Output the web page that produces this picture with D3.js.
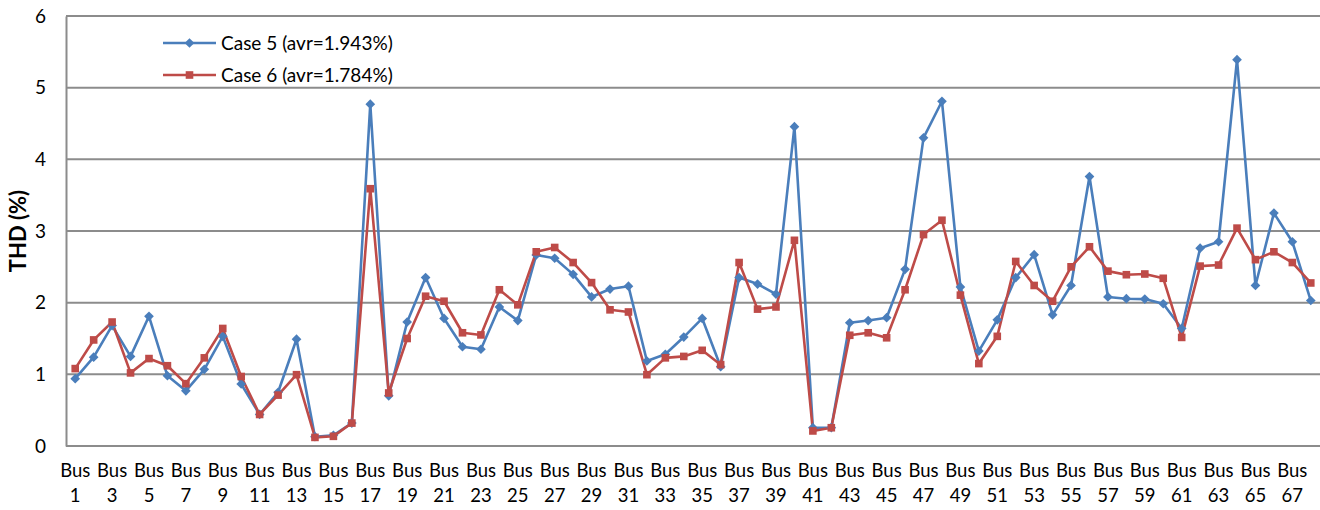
<!DOCTYPE html>
<html>
<head>
<meta charset="utf-8">
<script src="https://cdn.jsdelivr.net/npm/d3@7"></script>
<style>
  html, body { margin: 0; padding: 0; background: #fff; }
  svg { display: block; font-family: Lato, "Open Sans", sans-serif; }
</style>
</head>
<body>
<svg id="chart" width="1320" height="510"></svg>
<script>
// Bus numbers along the x axis
const buses = d3.range(1, 69);

// THD (%) per bus, Case 5
const case5 = [
  0.94, 1.24, 1.68, 1.25, 1.81, 0.98, 0.77, 1.07, 1.53, 0.865,
  0.44, 0.75, 1.49, 0.13, 0.15, 0.32, 4.77, 0.70, 1.73, 2.35,
  1.78, 1.385, 1.35, 1.94, 1.75, 2.665, 2.62, 2.395, 2.08, 2.19,
  2.23, 1.186, 1.28, 1.52, 1.78, 1.107, 2.35, 2.26, 2.12, 4.455,
  0.255, 0.255, 1.72, 1.75, 1.79, 2.465, 4.30, 4.81, 2.22, 1.325,
  1.76, 2.35, 2.67, 1.83, 2.24, 3.76, 2.08, 2.055, 2.05, 1.985,
  1.64, 2.76, 2.85, 5.39, 2.24, 3.25, 2.85, 2.03
];

// THD (%) per bus, Case 6
const case6 = [
  1.08, 1.48, 1.73, 1.02, 1.22, 1.12, 0.87, 1.23, 1.64, 0.97,
  0.44, 0.71, 0.995, 0.12, 0.135, 0.32, 3.59, 0.74, 1.50, 2.09,
  2.02, 1.58, 1.55, 2.18, 1.97, 2.71, 2.77, 2.56, 2.28, 1.90,
  1.87, 0.995, 1.23, 1.25, 1.335, 1.135, 2.56, 1.91, 1.94, 2.87,
  0.21, 0.255, 1.545, 1.58, 1.51, 2.18, 2.95, 3.15, 2.105, 1.15,
  1.53, 2.575, 2.24, 2.02, 2.50, 2.78, 2.44, 2.39, 2.40, 2.34,
  1.515, 2.51, 2.525, 3.04, 2.60, 2.71, 2.56, 2.275
];

const seriesNames = ["Case 5 (avr=1.943%)", "Case 6 (avr=1.784%)"];
const yTicks = [0, 1, 2, 3, 4, 5, 6];
const xTickBuses = buses.filter(b => b % 2 === 1);
const yTitle = "THD (%)";

const colors = ["#4a7ebb", "#be4b48"];
const gridColor = "#8c8c8c";
const font = "Lato, sans-serif";

const svg = d3.select("#chart");
const margin = { left: 66, right: 0, top: 16, bottom: 64 };
const W = 1320, H = 510;

const x = d3.scaleBand()
  .domain(buses)
  .range([margin.left, W - margin.right])
  .paddingInner(0).paddingOuter(0);
const xc = b => x(b) + x.bandwidth() / 2;

const y = d3.scaleLinear()
  .domain([0, 6])
  .range([H - margin.bottom, margin.top]);

// horizontal gridlines
svg.append("g")
  .selectAll("line")
  .data(yTicks)
  .join("line")
  .attr("x1", margin.left)
  .attr("x2", W - margin.right)
  .attr("y1", d => y(d))
  .attr("y2", d => y(d))
  .attr("stroke", gridColor)
  .attr("stroke-width", 2);

// y axis
const yAxis = svg.append("g")
  .attr("transform", `translate(${margin.left},0)`)
  .call(d3.axisLeft(y).tickValues(yTicks).tickSize(0).tickPadding(20).tickFormat(d3.format("d")));
yAxis.select(".domain").attr("stroke", gridColor).attr("stroke-width", 2);
yAxis.selectAll("text")
  .attr("font-size", 19)
  .attr("font-family", font)
  .attr("fill", "#000");

// x axis with two-line labels
const xAxis = svg.append("g")
  .attr("transform", `translate(0,${y(0)})`)
  .call(d3.axisBottom(x).tickValues(xTickBuses).tickSize(0).tickPadding(0).tickFormat(() => ""));
xAxis.select(".domain").remove();
xAxis.selectAll(".tick text").each(function (d) {
  const t = d3.select(this)
    .attr("font-size", 18.5)
    .attr("font-family", font)
    .attr("fill", "#000")
    .attr("dy", null)
    .attr("y", 0);
  t.append("tspan").attr("x", 0).attr("y", 31).text("Bus");
  t.append("tspan").attr("x", 0).attr("y", 56).text(d);
});

// y axis title
svg.append("text")
  .attr("transform", `translate(26,${(y(0) + y(6)) / 2}) rotate(-90)`)
  .attr("text-anchor", "middle")
  .attr("font-size", 22)
  .attr("font-weight", "bold")
  .attr("font-family", font)
  .text(yTitle);

// series lines and markers
const data = [case5, case6];
const line = d3.line()
  .x((d, i) => xc(buses[i]))
  .y(d => y(d));

data.forEach((vals, si) => {
  svg.append("path")
    .datum(vals)
    .attr("fill", "none")
    .attr("stroke", colors[si])
    .attr("stroke-width", 2.6)
    .attr("stroke-linejoin", "round")
    .attr("d", line);
});

const diamond = d3.symbol().type(d3.symbolDiamond2).size(60);
const square = d3.symbol().type(d3.symbolSquare).size(58);

svg.append("g")
  .selectAll("path")
  .data(case5)
  .join("path")
  .attr("transform", (d, i) => `translate(${xc(buses[i])},${y(d)})`)
  .attr("d", diamond)
  .attr("fill", colors[0]);

svg.append("g")
  .selectAll("path")
  .data(case6)
  .join("path")
  .attr("transform", (d, i) => `translate(${xc(buses[i])},${y(d)})`)
  .attr("d", square)
  .attr("fill", colors[1]);

// legend
const legend = svg.append("g").attr("transform", "translate(163,43)");
seriesNames.forEach((name, i) => {
  const g = legend.append("g").attr("transform", `translate(0,${i * 32})`);
  g.append("line")
    .attr("x1", 0).attr("x2", 53)
    .attr("y1", 0).attr("y2", 0)
    .attr("stroke", colors[i])
    .attr("stroke-width", 2.6);
  g.append("path")
    .attr("transform", "translate(26.5,0)")
    .attr("d", i === 0 ? diamond : square)
    .attr("fill", colors[i]);
  g.append("text")
    .attr("x", 58)
    .attr("y", 0)
    .attr("dy", "0.35em")
    .attr("font-size", 19)
    .attr("font-family", font)
    .text(name);
});
</script>
</body>
</html>
